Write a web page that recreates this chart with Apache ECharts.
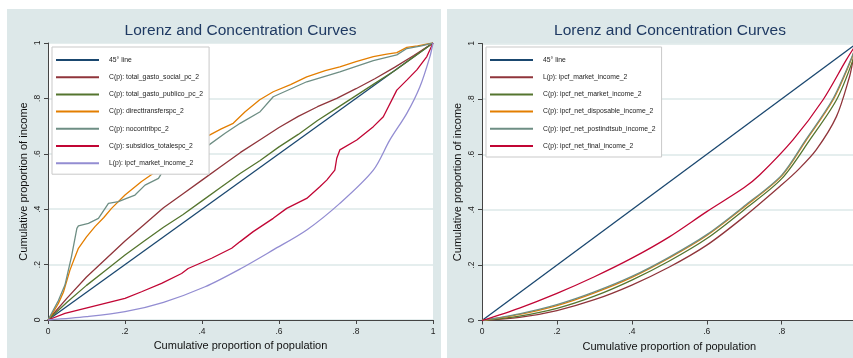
<!DOCTYPE html>
<html>
<head>
<meta charset="utf-8">
<title>Lorenz and Concentration Curves</title>
<script src="https://cdn.jsdelivr.net/npm/echarts@6/dist/echarts.min.js"></script>
<style>
  html, body { margin: 0; padding: 0; background: #fff; overflow: hidden; }
  /* el panel derecho se corta en el borde de la imagen, como en el original */
  #main { width: 862px; height: 358px; }
</style>
</head>
<body>
<div id="main"></div>
<script>
// ---- panel izquierdo: [p, L(p)/C(p)]
var diag = [[0, 0], [1, 1]];
var gastoSocial = [[0,0],[0.05,0.08],[0.1,0.155],[0.15,0.22],[0.2,0.285],[0.25,0.345],[0.3,0.405],[0.35,0.455],[0.4,0.505],[0.45,0.555],[0.5,0.605],[0.55,0.65],[0.6,0.695],[0.65,0.735],[0.7,0.77],[0.75,0.8],[0.8,0.835],[0.85,0.872],[0.9,0.912],[0.95,0.955],[1,1]];
var gastoPublico = [[0,0],[0.05,0.065],[0.1,0.125],[0.15,0.18],[0.2,0.235],[0.25,0.285],[0.3,0.335],[0.35,0.38],[0.4,0.43],[0.45,0.48],[0.5,0.53],[0.55,0.575],[0.6,0.625],[0.65,0.67],[0.7,0.72],[0.75,0.765],[0.8,0.81],[0.85,0.855],[0.9,0.9],[0.95,0.95],[1,1]];
var directTransfers = [[0,0],[0.01,0.02],[0.027,0.06],[0.04,0.1],[0.057,0.18],[0.068,0.22],[0.079,0.259],[0.1,0.3],[0.122,0.337],[0.145,0.37],[0.165,0.403],[0.2,0.451],[0.243,0.5],[0.274,0.53],[0.3,0.56],[0.35,0.61],[0.412,0.662],[0.45,0.69],[0.481,0.71],[0.512,0.752],[0.55,0.795],[0.585,0.824],[0.63,0.85],[0.672,0.878],[0.72,0.9],[0.758,0.914],[0.8,0.933],[0.845,0.951],[0.88,0.96],[0.906,0.965],[0.932,0.984],[0.96,0.99],[1,1]];
var noContrib = [[0,0],[0.027,0.07],[0.044,0.126],[0.061,0.229],[0.075,0.331],[0.079,0.34],[0.105,0.349],[0.131,0.367],[0.157,0.421],[0.183,0.427],[0.204,0.439],[0.226,0.451],[0.252,0.487],[0.287,0.511],[0.3,0.541],[0.35,0.58],[0.412,0.626],[0.46,0.674],[0.499,0.71],[0.551,0.752],[0.585,0.806],[0.672,0.86],[0.758,0.896],[0.845,0.936],[0.906,0.957],[0.932,0.98],[0.97,0.99],[1,1]];
var subsidios = [[0,0],[0.044,0.024],[0.096,0.042],[0.148,0.06],[0.2,0.078],[0.243,0.102],[0.295,0.132],[0.347,0.168],[0.364,0.186],[0.425,0.223],[0.477,0.259],[0.499,0.283],[0.533,0.319],[0.585,0.367],[0.62,0.403],[0.672,0.439],[0.706,0.481],[0.724,0.505],[0.745,0.541],[0.75,0.584],[0.758,0.614],[0.802,0.65],[0.845,0.698],[0.871,0.734],[0.906,0.83],[0.932,0.866],[0.958,0.903],[0.984,0.951],[1,1]];
var marketLeft = [[0,0],[0.1,0.012],[0.2,0.03],[0.3,0.064],[0.408,0.12],[0.5,0.185],[0.585,0.253],[0.672,0.325],[0.758,0.421],[0.845,0.541],[0.888,0.65],[0.932,0.746],[0.966,0.842],[0.992,0.951],[1,1]];

// ---- panel derecho
var marketRight = [[0,0],[0.1,0.011],[0.2,0.036],[0.3,0.075],[0.4,0.128],[0.5,0.193],[0.6,0.272],[0.7,0.375],[0.8,0.49],[0.843,0.543],[0.892,0.616],[0.946,0.736],[0.981,0.88],[0.989,0.93],[1,1]];
var netMarket = [[0,0],[0.1,0.016],[0.2,0.044],[0.3,0.088],[0.4,0.146],[0.5,0.215],[0.6,0.296],[0.7,0.4],[0.8,0.512],[0.875,0.652],[0.946,0.796],[0.99,0.94],[1,1]];
var netDisposable = [[0,0],[0.1,0.022],[0.2,0.054],[0.3,0.1],[0.4,0.156],[0.5,0.226],[0.6,0.307],[0.7,0.41],[0.8,0.522],[0.866,0.652],[0.937,0.796],[0.985,0.94],[1,1]];
var netPostIndSub = [[0,0],[0.1,0.024],[0.2,0.057],[0.3,0.103],[0.4,0.159],[0.5,0.229],[0.6,0.31],[0.7,0.413],[0.8,0.525],[0.864,0.652],[0.935,0.796],[0.984,0.94],[1,1]];
var netFinal = [[0,0],[0.1,0.045],[0.2,0.098],[0.3,0.158],[0.4,0.225],[0.5,0.302],[0.6,0.393],[0.7,0.48],[0.741,0.525],[0.83,0.652],[0.91,0.796],[0.972,0.94],[1,1]];

var leftNames = ['45° line', 'C(p): total_gasto_social_pc_2', 'C(p): total_gasto_publico_pc_2', 'C(p): directtransferspc_2', 'C(p): nocontribpc_2', 'C(p): subsidios_totalespc_2', 'L(p): ipcf_market_income_2'];
var rightNames = ['45° line#2', 'L(p): ipcf_market_income_2#2', 'C(p): ipcf_net_market_income_2#2', 'C(p): ipcf_net_disposable_income_2#2', 'C(p): ipcf_net_postindtsub_income_2#2', 'C(p): ipcf_net_final_income_2#2'];

// colores s2color de Stata
var navy = '#1a476f', maroon = '#90353b', green = '#55752f', orange = '#e37e00', teal = '#6e8e84', cranberry = '#c10534', lavender = '#938dd2';

var bgColor = '#dde8e9';
var font = '"Liberation Sans", Arial, sans-serif';

function tickFmt(v) {
  var s = String(+(+v).toFixed(1));
  return s.replace(/^0\./, '.');
}

function makeX(gridIndex) {
  return {
    type: 'value', gridIndex: gridIndex, min: 0, max: 1, interval: 0.2,
    name: 'Cumulative proportion of population', nameLocation: 'middle', nameGap: 17,
    nameTextStyle: { fontFamily: font, fontSize: 11, color: '#111' },
    axisLine: { lineStyle: { color: '#444', width: 1 } },
    axisTick: { length: 4, lineStyle: { color: '#444' } },
    axisLabel: { formatter: tickFmt, fontFamily: font, fontSize: 8.5, color: '#222', margin: 7 },
    splitLine: { show: false }
  };
}
function makeY(gridIndex) {
  return {
    type: 'value', gridIndex: gridIndex, min: 0, max: 1, interval: 0.2,
    name: 'Cumulative proportion of income', nameLocation: 'middle', nameGap: 19, nameRotate: 90,
    nameTextStyle: { fontFamily: font, fontSize: 11, color: '#111' },
    axisLine: { show: true, lineStyle: { color: '#444', width: 1 } },
    axisTick: { show: true, length: 4, lineStyle: { color: '#444' } },
    axisLabel: { formatter: tickFmt, rotate: 90, fontFamily: font, fontSize: 8.5, color: '#222', margin: 6 },
    splitLine: { show: true, lineStyle: { color: bgColor, width: 1.5 } }
  };
}
function line(name, data, color, idx, smooth) {
  return {
    name: name, type: 'line', data: data, xAxisIndex: idx, yAxisIndex: idx,
    showSymbol: false, symbol: 'none', smooth: smooth ? 0.3 : false,
    lineStyle: { color: color, width: 1.3 }, itemStyle: { color: color },
    silent: true, animation: false
  };
}
function legendFor(left, names) {
  return {
    orient: 'vertical', left: left, top: 47, data: names, selectedMode: false,
    icon: 'rect', itemWidth: 43, itemHeight: 2, itemGap: 7.2,
    padding: [8, 6, 6, 4], backgroundColor: '#fff', borderColor: '#c9c9c9', borderWidth: 1, borderRadius: 0,
    formatter: function (n) { return n.replace('#2', ''); },
    textStyle: { fontFamily: font, fontSize: 6.8, lineHeight: 10, color: '#222', padding: [0, 0, 0, 5] }
  };
}

var chart = echarts.init(document.getElementById('main'), null, { renderer: 'canvas' });
chart.setOption({
  animation: false,
  backgroundColor: '#fff',
  graphic: [
    { type: 'rect', z: -100, shape: { x: 7, y: 9, width: 434, height: 349 }, style: { fill: bgColor } },
    { type: 'rect', z: -100, shape: { x: 447, y: 9, width: 415, height: 349 }, style: { fill: bgColor } },
    { type: 'text', z: 100, x: 240.5, y: 31, style: { text: 'Lorenz and Concentration Curves', fill: '#1f3a63', font: '15.5px ' + font, align: 'center', verticalAlign: 'middle' } },
    { type: 'text', z: 100, x: 670, y: 31, style: { text: 'Lorenz and Concentration Curves', fill: '#1f3a63', font: '15.5px ' + font, align: 'center', verticalAlign: 'middle' } }
  ],
  grid: [
    { left: 48, top: 43, width: 385, height: 277, show: true, backgroundColor: '#fff', borderWidth: 0 },
    { left: 482, top: 43.5, width: 375, height: 277, show: true, backgroundColor: '#fff', borderWidth: 0 }
  ],
  xAxis: [makeX(0), makeX(1)],
  yAxis: [makeY(0), makeY(1)],
  legend: [legendFor(52, leftNames), legendFor(486, rightNames)],
  series: [
    line(leftNames[0], diag, navy, 0),
    line(leftNames[1], gastoSocial, maroon, 0),
    line(leftNames[2], gastoPublico, green, 0),
    line(leftNames[3], directTransfers, orange, 0),
    line(leftNames[4], noContrib, teal, 0),
    line(leftNames[5], subsidios, cranberry, 0),
    line(leftNames[6], marketLeft, lavender, 0, true),
    line(rightNames[0], diag, navy, 1),
    line(rightNames[1], marketRight, maroon, 1, true),
    line(rightNames[2], netMarket, green, 1, true),
    line(rightNames[3], netDisposable, orange, 1, true),
    line(rightNames[4], netPostIndSub, teal, 1, true),
    line(rightNames[5], netFinal, cranberry, 1, true)
  ]
});
</script>
</body>
</html>
